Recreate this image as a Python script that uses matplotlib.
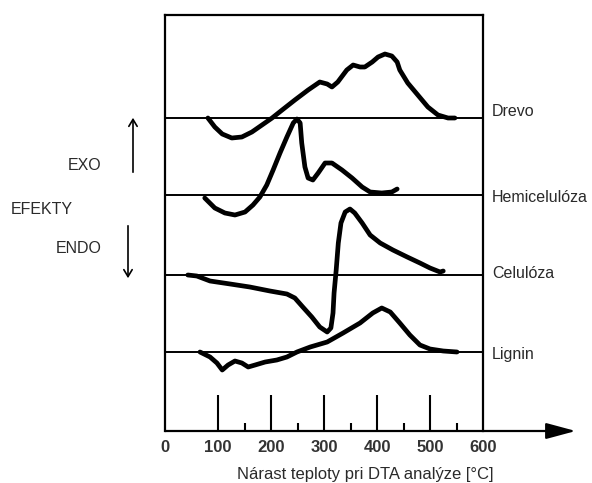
import matplotlib
matplotlib.use("Agg")
import matplotlib.pyplot as plt
from matplotlib.patches import FancyArrowPatch

plt.rcParams['font.family'] = ['Liberation Sans', 'DejaVu Sans']

# temperature [°C] and signal height for each DTA curve (baseline = offset)
drevo_t = [81, 94, 108, 126, 145, 164, 183, 202, 221, 245, 270, 292, 306, 315, 326, 343,
           355, 368, 377, 391, 402, 415, 428, 438, 443, 458, 477, 496, 515, 534, 547]
drevo_y = [313, 304, 297, 293, 294, 299, 306, 313, 321, 331, 341, 349, 347, 344, 349, 361,
           366, 364, 364, 369, 374, 377, 375, 369, 361, 348, 336, 324, 316, 313, 313]

hemi_t = [75, 94, 113, 132, 151, 166, 179, 192, 204, 217, 230, 242, 249, 255, 258, 264,
          270, 279, 289, 302, 315, 334, 353, 372, 387, 409, 428, 438]
hemi_y = [233, 223, 218, 216, 219, 226, 234, 246, 261, 278, 294, 308, 312, 308, 288, 264,
          253, 251, 258, 268, 268, 261, 253, 244, 239, 238, 239, 242]

celu_t = [43, 60, 85, 123, 160, 198, 230, 245, 260, 277, 292, 306, 313, 317, 319, 323,
          327, 332, 340, 349, 358, 372, 387, 406, 430, 457, 481, 500, 519, 525]
celu_y = [156, 155, 150, 147, 144, 140, 137, 133, 124, 114, 104, 99, 103, 118, 138, 161,
          188, 208, 219, 222, 218, 208, 196, 188, 181, 174, 168, 163, 159, 160]

lign_t = [66, 85, 98, 108, 119, 132, 145, 157, 170, 189, 211, 230, 249, 274, 306, 336,
          368, 392, 409, 425, 443, 462, 481, 500, 525, 551]
lign_y = [79, 74, 68, 61, 66, 70, 68, 64, 66, 69, 71, 74, 79, 84, 89, 98,
          108, 118, 123, 119, 108, 96, 86, 82, 80, 79]

baselines = [313, 236, 156, 79]
names = ['Drevo', 'Hemicelulóza', 'Celulóza', 'Lignin']
name_y = [319, 234, 158, 76]

major_ticks = [100, 200, 300, 400, 500]
minor_ticks = [150, 250, 350, 450, 550]
tick_labels = [0, 100, 200, 300, 400, 500, 600]

W, H = 592, 483
fig = plt.figure(figsize=(W / 100, H / 100), dpi=100)
ax = fig.add_axes([165 / W, 52 / H, 318 / W, 416 / H])
ax.set_xlim(0, 600)
ax.set_ylim(0, 416)

for s in ['left', 'right', 'top']:
    ax.spines[s].set_linewidth(1.6)
ax.spines['bottom'].set_visible(False)

ax.set_xticks(major_ticks)
ax.set_xticks(minor_ticks, minor=True)
ax.set_xticklabels([])
ax.set_yticks([])
ax.tick_params(axis='x', which='major', direction='in', length=26, width=1.5)
ax.tick_params(axis='x', which='minor', direction='in', length=6, width=1.5)

for b in baselines:
    ax.axhline(b, color='black', lw=1.4)

kw = dict(color='black', lw=3.4, solid_joinstyle='round', solid_capstyle='round')
ax.plot(drevo_t, drevo_y, **kw)
ax.plot(hemi_t, hemi_y, **kw)
ax.plot(celu_t, celu_y, **kw)
ax.plot(lign_t, lign_y, **kw)

txt = '#2a2a2a'
for n, y in zip(names, name_y):
    ax.text(617, y, n, fontsize=11.5, va='center', ha='left', color=txt, clip_on=False)

# temperature axis with arrow
ax.annotate('', xy=(775, 0), xytext=(0, 0), xycoords='data',
            arrowprops=dict(arrowstyle='-|>,head_length=1.3,head_width=0.35',
                            color='black', lw=1.6, mutation_scale=14, shrinkA=0, shrinkB=0),
            annotation_clip=False)
for t in tick_labels:
    ax.text(t, -16, str(t), fontsize=12, fontweight='bold', ha='center', va='center',
            color='#333333')
ax.text(377, -44, 'Nárast teploty pri DTA analýze [°C]', fontsize=12, ha='center',
        va='center', color=txt)

# exo / endo annotation on the left
def fx(px):
    return px / W

def fy(py):
    return 1 - py / H

fig.text(fx(85), fy(165), 'EXO', fontsize=11.5, ha='center', va='center', color=txt)
fig.text(fx(42), fy(209), 'EFEKTY', fontsize=11.5, ha='center', va='center', color=txt)
fig.text(fx(79), fy(248), 'ENDO', fontsize=11.5, ha='center', va='center', color=txt)
fig.patches.append(FancyArrowPatch(
    (fx(133), fy(175)), (fx(133), fy(115)), transform=fig.transFigure,
    arrowstyle='->,head_length=5,head_width=3', color='black', lw=1.2))
fig.patches.append(FancyArrowPatch(
    (fx(128), fy(223)), (fx(128), fy(281)), transform=fig.transFigure,
    arrowstyle='->,head_length=5,head_width=3', color='black', lw=1.2))

fig.savefig('out.png', dpi=100)
